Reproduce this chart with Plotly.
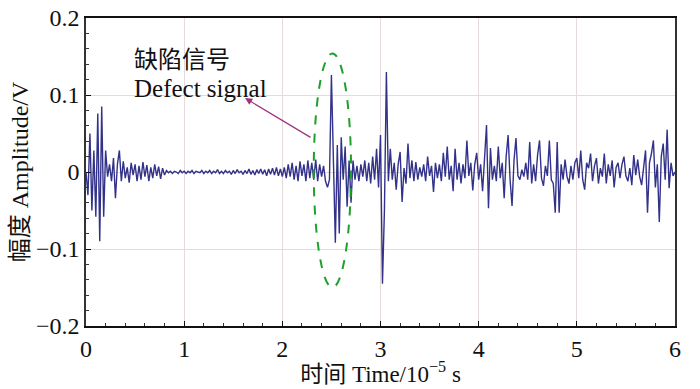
import numpy as np
import plotly.graph_objects as go

# Sampling interval in units of 10^-5 s
dt = 0.02

# Amplitude (V)
seg_a = [0.0, -0.03, 0.05, -0.05, 0.028, -0.058, 0.076, -0.09, 0.085, -0.058,
         0.028, -0.006, 0.01, -0.012, 0.018, -0.034, 0.01, 0.028, -0.012, 0.014, -0.008]
seg_b = [0.006, -0.014, 0.012, -0.004, 0.01, -0.012, 0.008, -0.01, 0.013, -0.006,
         0.009, -0.012, 0.006, -0.008, 0.01, -0.005, 0.007, -0.009, 0.005, -0.004]
seg_c = [0.002, -0.001, 0.001, -0.002, 0.001, 0.000, -0.002, 0.002, -0.001, 0.001,
         -0.002, 0.001, -0.001, 0.002, -0.002, 0.001, 0.000, -0.001, 0.002, -0.002,
         0.001, -0.001, 0.002, -0.002, 0.001, -0.001, 0.003, -0.002, 0.001, -0.002,
         0.002, -0.001, 0.001, -0.003, 0.002, -0.002, 0.003, -0.001, 0.001, -0.003,
         0.002, -0.002, 0.004, -0.003, 0.002, -0.004, 0.003, -0.002, 0.004, -0.003,
         0.003, -0.005, 0.004, -0.003, 0.005, -0.004, 0.006, -0.005, 0.004, -0.006]
seg_d = [0.006, -0.008, 0.01, -0.006, 0.012, -0.01, 0.008, -0.012, 0.014, -0.005,
         0.01, -0.012, 0.015, -0.008, 0.012, -0.01, 0.016, -0.012, 0.01, -0.006]
seg_e = [0.008, -0.012, -0.02, -0.01, 0.126, 0.02, -0.092, 0.035, -0.08, 0.045,
         -0.01, 0.033, -0.045, 0.015, -0.04, 0.015, -0.01, 0.008, -0.012, 0.01]
seg_f = [-0.006, 0.015, -0.012, 0.012, -0.015, 0.02, -0.01, 0.03, -0.02, 0.048]
seg_g = [-0.145, -0.05, 0.13, -0.012, 0.03, -0.01, 0.012, -0.023, 0.01, 0.026,
         -0.039, 0.005, -0.015, 0.037, -0.008, 0.015, -0.012, 0.013, -0.01, 0.006,
         -0.006, 0.01, -0.012, 0.02, -0.005, 0.008, -0.026, 0.012, -0.008, 0.01,
         -0.012, 0.025, -0.006, 0.033, -0.01, 0.008, -0.025, 0.03, -0.01, 0.012,
         -0.015, 0.01, -0.008, 0.041, -0.005, 0.012, -0.024, 0.01, 0.025, -0.01]
seg_h = [0.01, -0.025, 0.02, 0.061, -0.047, 0.031, -0.01, 0.008, -0.012, 0.033,
         -0.008, 0.012, -0.034, 0.02, 0.048, -0.01, -0.044, 0.015, 0.044, -0.005,
         -0.01, 0.003, -0.006, 0.012, -0.01, 0.039, -0.015, 0.01, -0.012, 0.022,
         0.041, -0.008, -0.018, 0.008, -0.005, 0.041, -0.01, -0.015, -0.053, 0.039,
         -0.053, 0.01, -0.01, 0.016, -0.006, -0.015, 0.008, -0.01, 0.012, 0.018]
seg_i = [-0.008, 0.028, -0.01, -0.023, 0.012, 0.005, 0.024, -0.012, 0.008, 0.018,
         -0.015, 0.005, -0.006, 0.024, -0.015, 0.01, -0.005, 0.015, -0.02, 0.006,
         0.012, -0.008, 0.01, 0.02, -0.005, -0.012, 0.005, -0.017, 0.022, -0.004,
         0.016, -0.006, -0.017, 0.01, 0.028, -0.053, 0.012, 0.024, 0.041, -0.02,
         0.01, -0.065, 0.02, 0.037, -0.01, 0.055, -0.021, 0.012, -0.005, 0.0]

amplitude = seg_a + seg_b + seg_c + seg_d + seg_e + seg_f + seg_g + seg_h + seg_i
time = np.arange(len(amplitude)) * dt

fig = go.Figure()
fig.add_trace(go.Scatter(x=time, y=amplitude, mode="lines",
                         line=dict(color="#32328a", width=1.4),
                         showlegend=False, hoverinfo="skip"))

# Dashed ellipse around the defect signal
fig.add_shape(type="circle", xref="x", yref="y",
              x0=2.32, x1=2.70, y0=-0.150, y1=0.154,
              line=dict(color="#1fa02a", width=2, dash="dash"))

serif = "Liberation Serif, Times New Roman, serif"
cjk = "Noto Sans CJK SC"

fig.add_annotation(x=1.62, y=0.096, xref="x", yref="y",
                   ax=70, ay=42, showarrow=True, arrowhead=2, arrowsize=1.2,
                   arrowwidth=1.2, arrowcolor="#a0307f", text=" ")
fig.add_annotation(x=0.98, y=0.149, xref="x", yref="y", showarrow=False,
                   text="缺陷信号", font=dict(family=cjk, size=24, color="#111"))
fig.add_annotation(x=1.17, y=0.109, xref="x", yref="y", showarrow=False,
                   text="Defect signal", font=dict(family=serif, size=25, color="#111"))

fig.update_layout(
    width=700, height=389,
    margin=dict(l=86, r=25, t=18, b=63, autoexpand=False),
    paper_bgcolor="white", plot_bgcolor="white",
    font=dict(family=serif, size=22, color="#111"),
)
fig.update_xaxes(
    range=[0, 6], tickvals=[0, 1, 2, 3, 4, 5, 6], automargin=False,
    showgrid=True, gridcolor="#e6dada", gridwidth=1,
    zeroline=False, showline=True, linecolor="#111", linewidth=2, mirror=True,
    ticks="inside", ticklen=5, tickcolor="#111",
    minor=dict(dtick=0.2, ticks="inside", ticklen=3, tickcolor="#333", showgrid=False),
    title=dict(text="<span style='font-family:Noto Sans CJK SC'>时间</span> Time/10<sup>−5</sup> s",
               font=dict(family=serif, size=23), standoff=4),
    tickfont=dict(family=serif, size=24),
)
fig.update_yaxes(
    range=[-0.2, 0.2], tickvals=[-0.2, -0.1, 0, 0.1, 0.2], automargin=False,
    ticktext=["−0.2", "−0.1", "0", "0.1", "0.2"],
    showgrid=True, gridcolor="#e6dada", gridwidth=1,
    zeroline=False, showline=True, linecolor="#333", linewidth=1.5, mirror=True,
    ticks="inside", ticklen=5, tickcolor="#111",
    minor=dict(dtick=0.02, ticks="inside", ticklen=3, tickcolor="#333", showgrid=False),
    title=dict(text="<span style='font-family:Noto Sans CJK SC'>幅度</span> Amplitude/V",
               font=dict(family=serif, size=24), standoff=2),
    tickfont=dict(family=serif, size=24),
)

fig.write_html("out.html", config={"displayModeBar": False},
               post_script="document.body.style.margin='0';document.body.style.overflow='hidden';")
